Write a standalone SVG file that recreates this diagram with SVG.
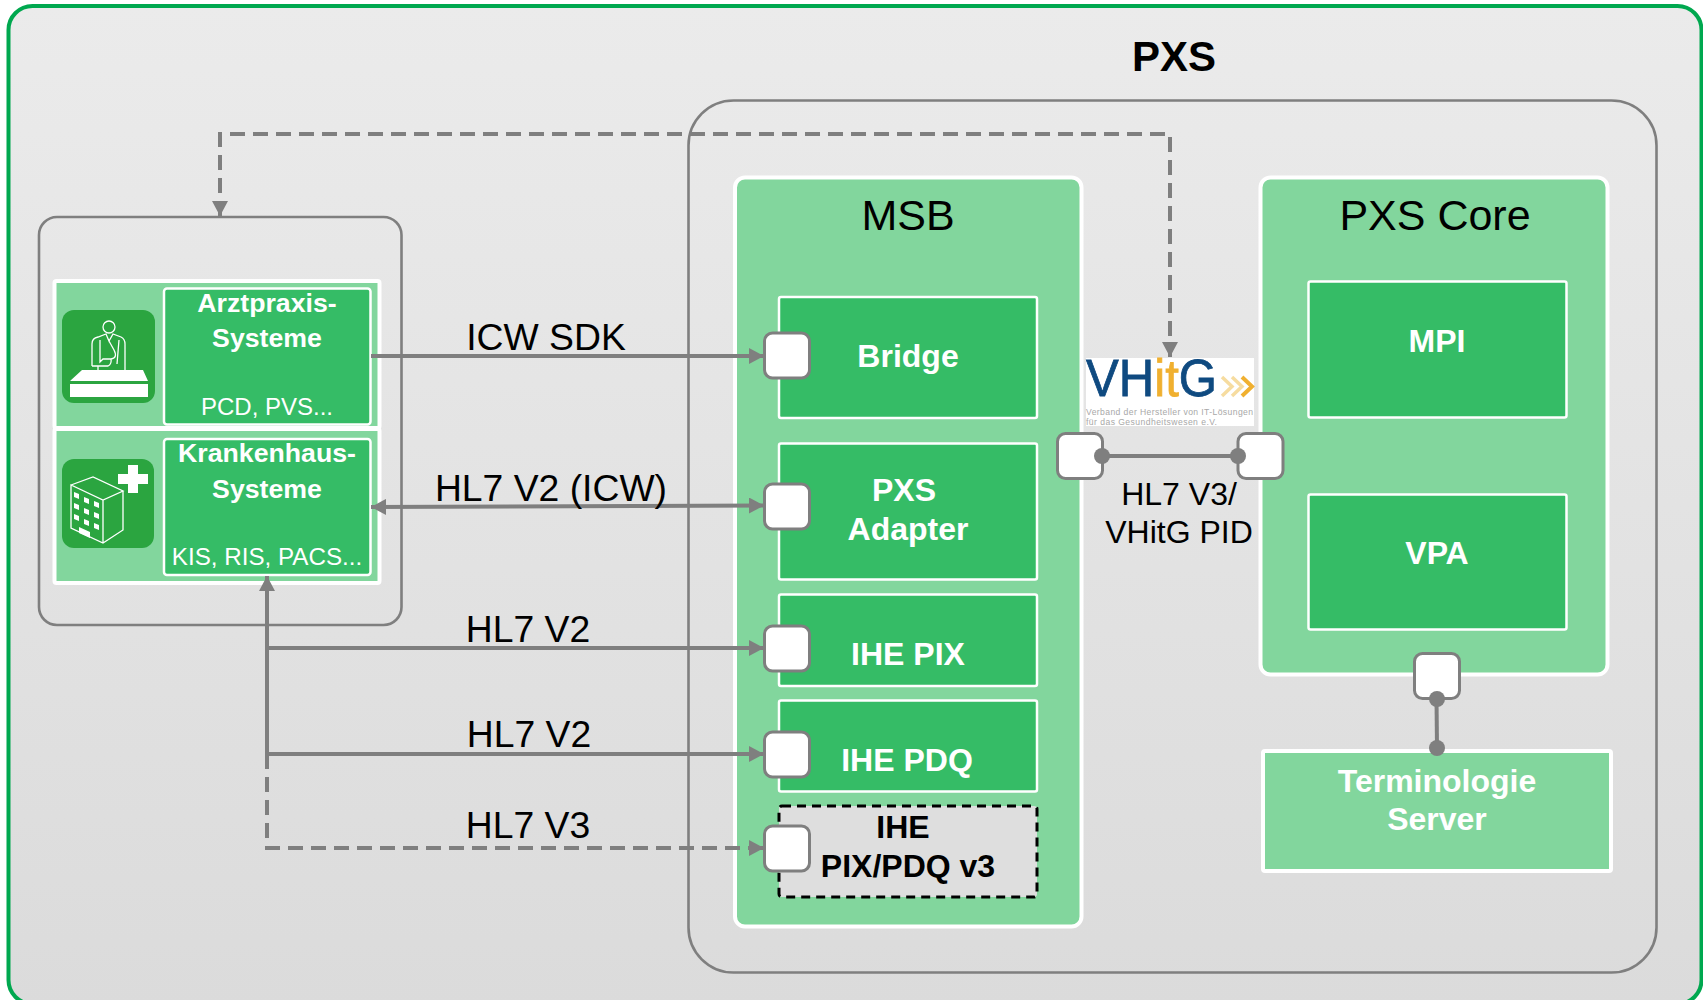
<svg xmlns="http://www.w3.org/2000/svg" width="1703" height="1000" viewBox="0 0 1703 1000">
<style>
text{font-family:"Liberation Sans",Arial,sans-serif;text-anchor:middle}
.w{fill:#fff;font-weight:bold}
.b32{font-size:32px}
.lbl{font-size:37.3px;fill:#000}
.panel{fill:#82d69d;stroke:#fff;stroke-width:4}
.node{fill:#35bc66;stroke:#fff;stroke-width:2.5}
.port{fill:#fff;stroke:#7f7f7f;stroke-width:3}
.box{fill:none;stroke:#7f7f7f;stroke-width:2.6}
.con{fill:none;stroke:#7f7f7f;stroke-width:4}
.dash{stroke-dasharray:15 8}
.dot{fill:#7f7f7f}
.ic{fill:none;stroke:#fff;stroke-width:1.3}
</style>
<defs>
<linearGradient id="bg" x1="0" y1="0" x2="0" y2="1"><stop offset="0" stop-color="#ebebeb"/><stop offset="1" stop-color="#dbdbdb"/></linearGradient>
<marker id="arr" markerUnits="userSpaceOnUse" markerWidth="16" markerHeight="16" refX="15" refY="8" orient="auto-start-reverse"><path d="M0 0L15 8L0 16Z" fill="#7f7f7f"/></marker>
</defs>
<rect width="1703" height="1000" fill="#fff"/>
<rect id="frame" x="8.5" y="6" width="1693" height="998" rx="24" fill="url(#bg)" stroke="#00a84f" stroke-width="4"/>
<text x="1174" y="71" font-size="42" font-weight="bold">PXS</text>
<rect id="pxs" class="box" x="688.500" y="100.500" width="968" height="872" rx="45"/>
<rect id="clients" class="box" x="39" y="217" width="362.500" height="408" rx="18"/>
<g id="arztpraxis">
<rect class="panel" x="54.500" y="281" width="325" height="147" rx="2"/>
<rect id="doctor-icon" x="62" y="310" width="93" height="93" rx="12" fill="#2ba540"/>
<g class="ic">
<circle cx="109" cy="327" r="6"/>
<path d="M92 366V344Q92 338 98 337L106 334L109 341L113 334L121 337Q125 339 125 344V370M92 366H108Q112 364 111 359H103L100 362V340M109 341L114 350Q118 358 111 359M119 340L117 364M98 366V370"/>
</g>
<path d="M82 370H143L148 381H70ZM70 384H148V397H70Z" fill="#fff"/>
<rect class="node" x="164" y="288.500" width="206.500" height="136" rx="3"/>
<text class="w" font-size="26.700" x="267" y="312">Arztpraxis-</text>
<text class="w" font-size="26.700" x="267" y="347">Systeme</text>
<text x="267" y="415" font-size="24" fill="#fff">PCD, PVS...</text>
</g>
<g id="krankenhaus">
<rect class="panel" x="54.500" y="429" width="325" height="154" rx="2"/>
<rect id="hospital-icon" x="62" y="459" width="92" height="89" rx="12" fill="#2ba540"/>
<path d="M128 465H138V474H148V484H138V493H128V484H118V474H128Z" fill="#fff"/>
<g class="ic"><path d="M71 485L93 477L123 491L103 500L71 485V528L103 543L123 530V491M103 500V543"/></g>
<path d="M74 492l5 2v5l-5-2zM84 497l5 2v5l-5-2zM94 501l5 2v5l-5-2zM74 503l5 2v5l-5-2zM84 508l5 2v5l-5-2zM94 512l5 2v5l-5-2zM74 514l5 2v5l-5-2zM84 519l5 2v5l-5-2zM94 523l5 2v5l-5-2zM79 527l11 5v6l-11-5z" fill="#fff"/>
<rect class="node" x="164" y="439" width="206.500" height="136" rx="3"/>
<text class="w" font-size="26.700" x="267" y="462">Krankenhaus-</text>
<text class="w" font-size="26.700" x="267" y="498">Systeme</text>
<text x="267" y="565" font-size="24.200" fill="#fff">KIS, RIS, PACS...</text>
</g>
<g id="msb">
<rect class="panel" x="735" y="177.500" width="346.500" height="749" rx="10"/>
<text x="908" y="230" font-size="43">MSB</text>
</g>
<g id="core">
<rect class="panel" x="1260.500" y="177.500" width="347" height="497" rx="10"/>
<text x="1435" y="230" font-size="43">PXS Core</text>
</g>
<g id="bridge"><rect class="node" x="779" y="297" width="258" height="121" rx="2"/><text class="w b32" x="908" y="367">Bridge</text></g>
<g id="adapter"><rect class="node" x="779" y="443.500" width="258" height="136" rx="2"/><text class="w b32" x="904" y="501">PXS</text><text class="w b32" x="908" y="540">Adapter</text></g>
<g id="ihe-pix"><rect class="node" x="779" y="594.500" width="258" height="91.500" rx="2"/><text class="w b32" x="908" y="665">IHE PIX</text></g>
<g id="ihe-pdq"><rect class="node" x="779" y="700.500" width="258" height="91" rx="2"/><text class="w b32" x="907" y="771">IHE PDQ</text></g>
<g id="ihe-v3"><rect x="779" y="806" width="258" height="91" rx="3" fill="#dedede" stroke="#000" stroke-width="3" stroke-dasharray="9 6"/><text class="b32" font-weight="bold" x="903" y="838">IHE</text><text class="b32" font-weight="bold" x="908" y="877">PIX/PDQ v3</text></g>
<g id="mpi"><rect class="node" x="1308.500" y="281.500" width="258" height="136" rx="2"/><text class="w b32" x="1437" y="352">MPI</text></g>
<g id="vpa"><rect class="node" x="1308.500" y="494.500" width="258" height="135" rx="2"/><text class="w b32" x="1437" y="564">VPA</text></g>
<g id="terminologie"><rect x="1263" y="751" width="348" height="120" rx="2" fill="#82d69d" stroke="#fff" stroke-width="4"/><text class="w" font-size="32" x="1437" y="792">Terminologie</text><text class="w" font-size="32" x="1437" y="830">Server</text></g>
<g id="vhitg">
<rect x="1086" y="358" width="168" height="68" fill="#fff"/>
<text x="1086" y="396" font-size="52" style="text-anchor:start" textLength="131" lengthAdjust="spacingAndGlyphs" fill="#0f4a80" stroke="#0f4a80" stroke-width="0.8">VH<tspan fill="#f0b030" stroke="#f0b030">it</tspan>G</text>
<path d="M1222 377L1232 386.500L1222 396M1232 377L1242 386.500L1232 396" fill="none" stroke="#f6dca0" stroke-width="3.500"/>
<path d="M1242 377L1252 386.500L1242 396" fill="none" stroke="#f0b030" stroke-width="4"/>
<text x="1086" y="415" font-size="8.600" style="text-anchor:start" fill="#a8a8a8" textLength="167">Verband der Hersteller von IT-Lösungen</text>
<text x="1086" y="425" font-size="8.600" style="text-anchor:start" fill="#a8a8a8" textLength="131">für das Gesundheitswesen e.V.</text>
</g>
<g id="ports">
<rect class="port" x="764.500" y="333" width="45" height="45" rx="8"/>
<rect class="port" x="764.500" y="484" width="45" height="45" rx="8"/>
<rect class="port" x="764.500" y="626" width="45" height="45" rx="8"/>
<rect class="port" x="764.500" y="732" width="45" height="45" rx="8"/>
<rect class="port" x="764.500" y="826" width="45" height="45" rx="8"/>
<rect class="port" x="1057.500" y="433.500" width="45" height="45" rx="8"/>
<rect class="port" x="1238" y="433.500" width="45" height="45" rx="8"/>
<rect class="port" x="1414.500" y="653.500" width="45" height="45" rx="8"/>
</g>
<g id="connectors">
<path class="con dash" d="M220 216V134H1170V357" marker-start="url(#arr)" marker-end="url(#arr)"/>
<path class="con" d="M371 356H764" marker-end="url(#arr)"/>
<path class="con" d="M371 507L764 505.500" marker-start="url(#arr)" marker-end="url(#arr)"/>
<path class="con" d="M267 576V754" marker-start="url(#arr)"/>
<path class="con" d="M267 648H764" marker-end="url(#arr)"/>
<path class="con" d="M267 754H764" marker-end="url(#arr)"/>
<path class="con dash" d="M267 754V848H764" marker-end="url(#arr)"/>
<path class="con" d="M1102 456H1238"/>
<path class="con" d="M1436.500 699L1437 748"/>
<circle class="dot" cx="1102" cy="456" r="8"/><circle class="dot" cx="1238" cy="456" r="8"/>
<circle class="dot" cx="1437" cy="699" r="8"/><circle class="dot" cx="1437" cy="748" r="8"/>
</g>
<g id="labels">
<text class="lbl" x="546" y="350">ICW SDK</text>
<text class="lbl" x="551" y="501">HL7 V2 (ICW)</text>
<text class="lbl" x="528" y="642">HL7 V2</text>
<text class="lbl" x="529" y="747">HL7 V2</text>
<text class="lbl" x="528" y="838">HL7 V3</text>
<text x="1179" y="505" font-size="32">HL7 V3/</text>
<text x="1179" y="543" font-size="32">VHitG PID</text>
</g>
</svg>
